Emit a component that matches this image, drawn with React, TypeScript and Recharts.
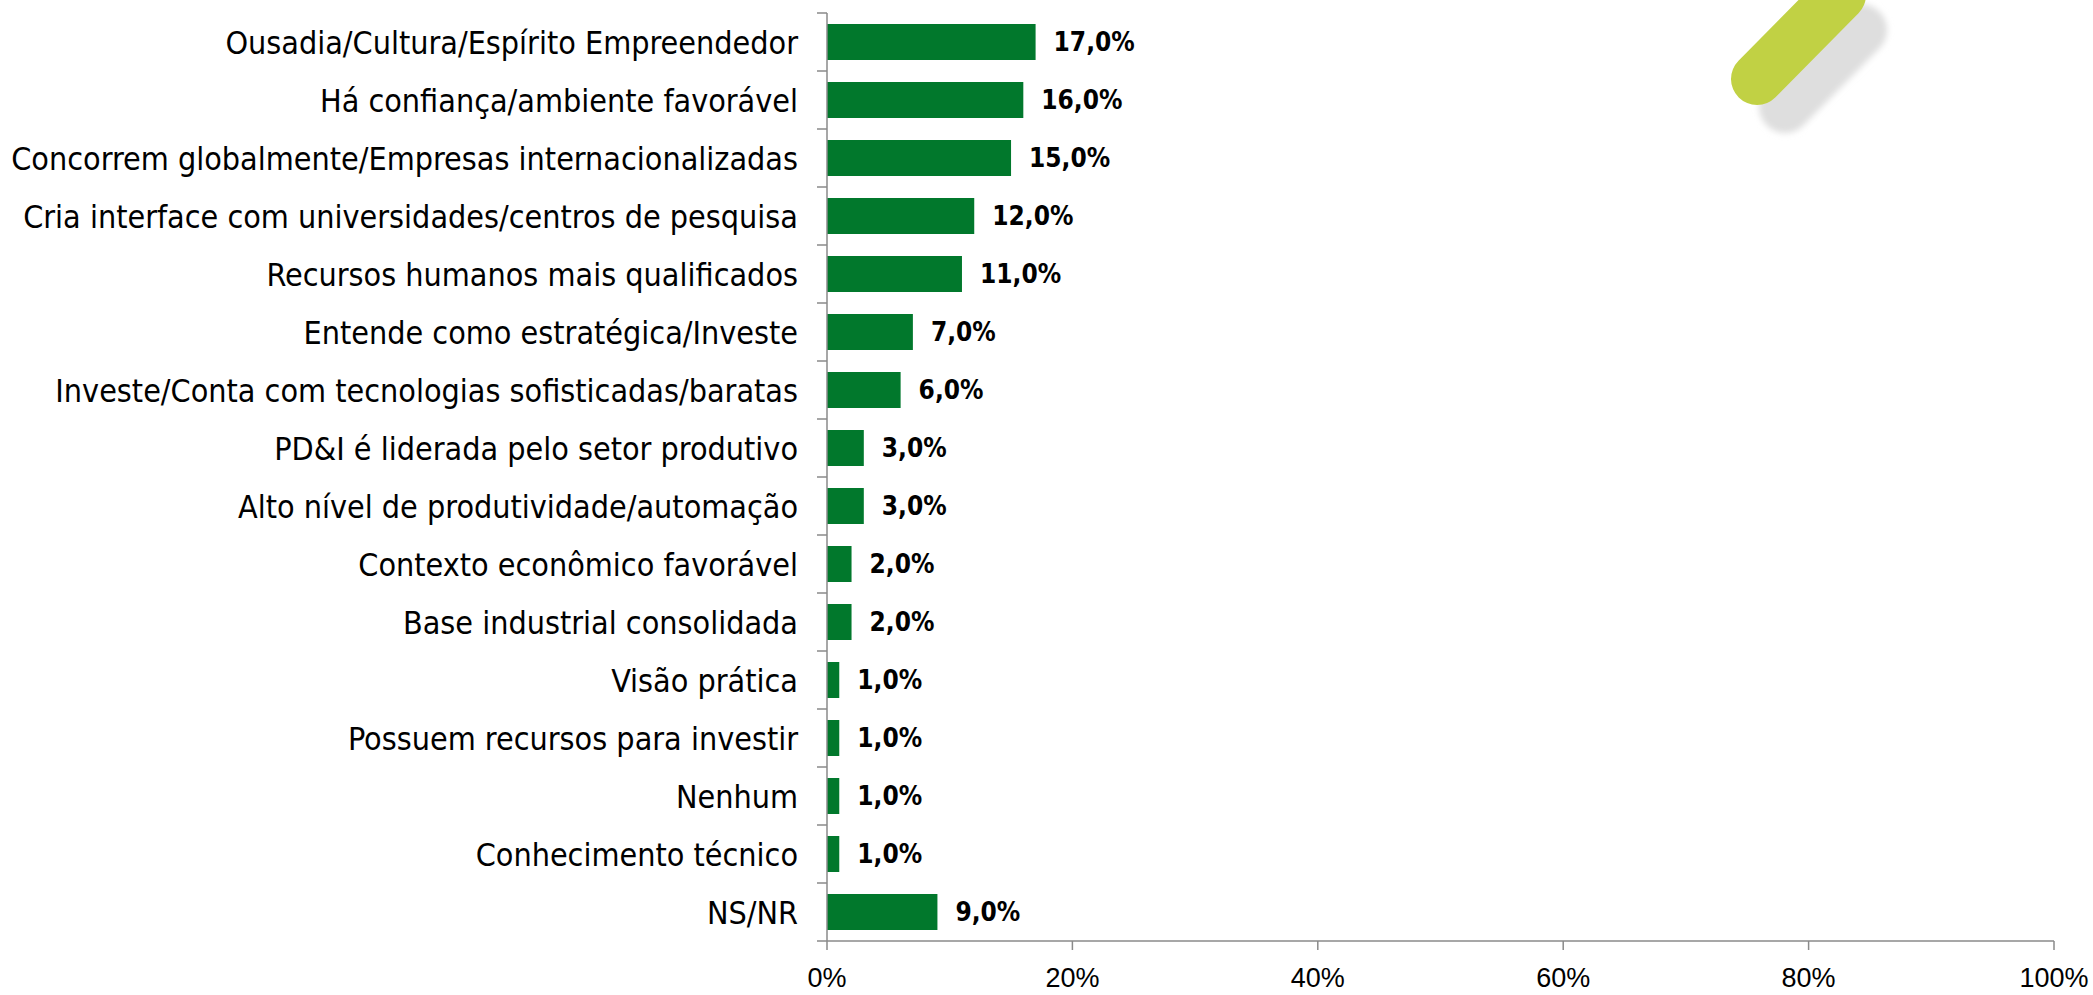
import { BarChart, Bar, XAxis, YAxis, LabelList } from "recharts";

const categories = [
  "Ousadia/Cultura/Espírito Empreendedor",
  "Há confiança/ambiente favorável",
  "Concorrem globalmente/Empresas internacionalizadas",
  "Cria interface com universidades/centros de pesquisa",
  "Recursos humanos mais qualificados",
  "Entende como estratégica/Investe",
  "Investe/Conta com tecnologias sofisticadas/baratas",
  "PD&I é liderada pelo setor produtivo",
  "Alto nível de produtividade/automação",
  "Contexto econômico favorável",
  "Base industrial consolidada",
  "Visão prática",
  "Possuem recursos para investir",
  "Nenhum",
  "Conhecimento técnico",
  "NS/NR",
];

const shares = [17, 16, 15, 12, 11, 7, 6, 3, 3, 2, 2, 1, 1, 1, 1, 9];

const xTicks = [0, 20, 40, 60, 80, 100];

const data = categories.map((name, i) => ({ name, value: shares[i] }));

const W = 2093;
const H = 995;
const TOP = 13;
const X_AXIS_H = 54;
const BAND = (H - TOP - X_AXIS_H) / categories.length;
const AXIS_GREY = "#8a8a8a";
const LABEL_FONT = "'DejaVu Sans Condensed', 'DejaVu Sans', sans-serif";

// category tick: label plus a tick mark on the band boundary (Excel style)
function CategoryTick(props: any) {
  const { x, y, payload, index } = props;
  const axisX = x + 29;
  const top = y - BAND / 2;
  return (
    <g>
      <line x1={axisX - 10} x2={axisX} y1={top} y2={top} stroke={AXIS_GREY} strokeWidth={1.5} />
      {index === categories.length - 1 && (
        <line x1={axisX - 10} x2={axisX} y1={top + BAND} y2={top + BAND} stroke={AXIS_GREY} strokeWidth={1.5} />
      )}
      <text x={x} y={y} dy="0.36em" textAnchor="end" fill="#000" fontSize={32} fontFamily={LABEL_FONT}>
        {payload.value}
      </text>
    </g>
  );
}

export default function App() {
  return (
    <div style={{ position: "absolute", left: 0, top: 0, width: W, height: H, background: "#fff" }}>
      <BarChart
        width={W}
        height={H}
        data={data}
        layout="vertical"
        margin={{ top: TOP, right: 39, bottom: 0, left: 0 }}
      >
        <XAxis
          type="number"
          domain={[0, 100]}
          ticks={xTicks}
          tickFormatter={(v) => `${v}%`}
          height={X_AXIS_H}
          tickSize={9}
          tickMargin={18}
          axisLine={{ stroke: AXIS_GREY, strokeWidth: 1.5 }}
          tickLine={{ stroke: AXIS_GREY, strokeWidth: 1.5 }}
          tick={{ fill: "#000", fontSize: 27, fontFamily: "'Liberation Sans', Arial, sans-serif" }}
        />
        <YAxis
          type="category"
          dataKey="name"
          width={827}
          tickLine={false}
          tickSize={10}
          tickMargin={19}
          axisLine={{ stroke: AXIS_GREY, strokeWidth: 1.5 }}
          tick={<CategoryTick />}
          interval={0}
        />
        <Bar dataKey="value" fill="#01782c" barSize={36} isAnimationActive={false}>
          <LabelList
            dataKey="value"
            position="right"
            offset={18}
            formatter={(v: any) => `${Number(v).toFixed(1).replace(".", ",")}%`}
            style={{ fill: "#000", fontSize: 26, fontWeight: 700, fontFamily: LABEL_FONT }}
          />
        </Bar>
      </BarChart>
      <svg
        width={W}
        height={H}
        style={{ position: "absolute", left: 0, top: 0, pointerEvents: "none" }}
      >
        <defs>
          <filter id="soft" x="-50%" y="-50%" width="200%" height="200%">
            <feGaussianBlur stdDeviation="3" />
          </filter>
        </defs>
        <line x1={1785} y1={107} x2={1861} y2={30} stroke="#dedede" strokeWidth={52} strokeLinecap="round" filter="url(#soft)" />
        <line x1={1757} y1={79} x2={1840} y2={-5} stroke="#c1d144" strokeWidth={52} strokeLinecap="round" />
      </svg>
    </div>
  );
}
